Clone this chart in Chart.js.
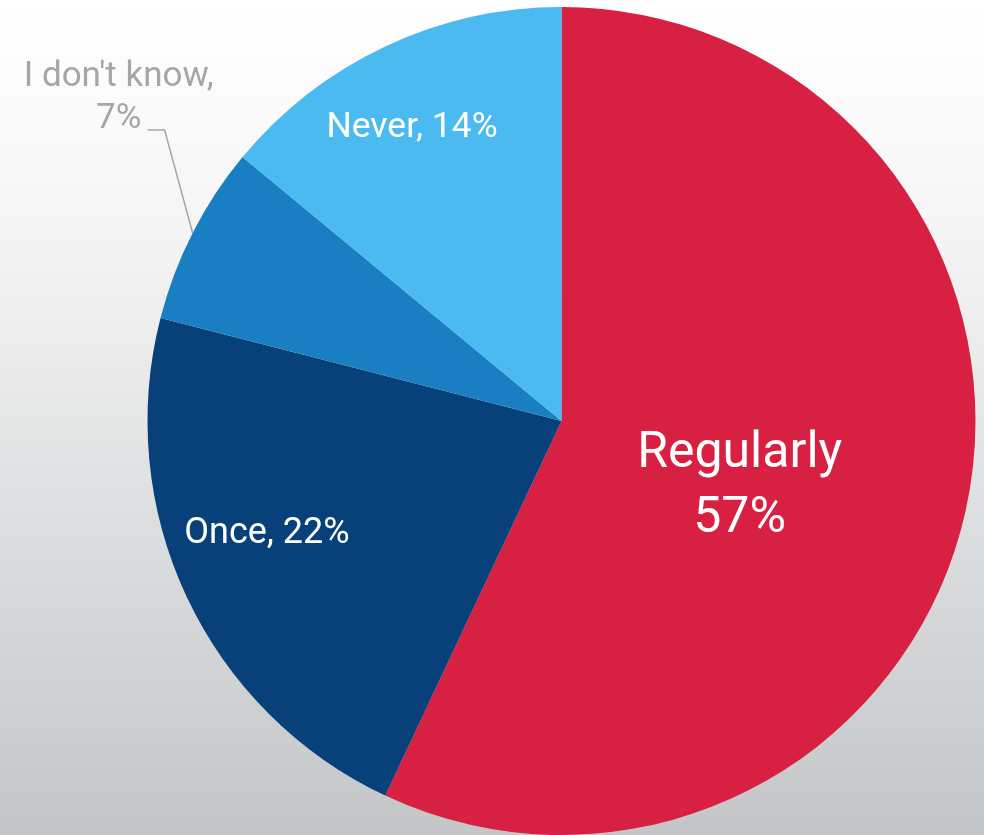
<!DOCTYPE html>
<html>
<head>
<meta charset="utf-8">
<script src="https://cdn.jsdelivr.net/npm/chart.js@4"></script>
<style>
    html, body {
        margin: 0;
        padding: 0;
    }
    body {
        width: 984px;
        height: 835px;
        background: linear-gradient(to bottom, #ffffff 0%, #f6f6f6 25%, #e2e3e4 55%, #c4c5c7 100%);
        overflow: hidden;
    }
    #wrap {
        position: relative;
        width: 984px;
        height: 835px;
    }
</style>
</head>
<body>
<div id="wrap">
    <canvas id="answers"></canvas>
</div>

<script>
// survey answers, clockwise from 12 o'clock
const categories = ['Regularly', 'Once', "I don't know", 'Never']
const shares = [57, 22, 7, 14]
const sliceColors = ['#d72042', '#08407a', '#1a7ec3', '#4abaf1']

// label text per slice (line breaks as in the original)
const labelLines = [
    ['Regularly', '57%'],
    ['Once, 22%'],
    ["I don't know,", '7%'],
    ['Never, 14%']
]

// where each label sits: fraction of radius + small angle nudge (degrees)
const labelPlacement = [
    { r: 0.459, nudge: 7.75, size: 50, lineGap: 65, color: '#ffffff' },
    { r: 0.762, nudge: 4.2, size: 36, lineGap: 0, color: '#ffffff' },
    { outside: true, size: 35, lineGap: 42, color: '#a6a6a6' },
    { r: 0.795, nudge: -1.8, size: 35.5, lineGap: 0, color: '#ffffff' }
]

const sliceLabels = {
    id: 'sliceLabels',
    afterDatasetsDraw(chart) {
        const ctx = chart.ctx
        const arcs = chart.getDatasetMeta(0).data

        arcs.forEach((arc, i) => {
            const p = labelPlacement[i]
            const lines = labelLines[i]
            const mid = (arc.startAngle + arc.endAngle) / 2

            ctx.save()
            ctx.fillStyle = p.color
            ctx.font = p.size + 'px Roboto, "Liberation Sans", sans-serif'
            ctx.textAlign = 'center'
            ctx.textBaseline = 'middle'

            if (p.outside) {
                // leader line from the rim to a small elbow, then text above-left
                const edgeX = arc.x + Math.cos(mid) * arc.outerRadius
                const edgeY = arc.y + Math.sin(mid) * arc.outerRadius
                const elbowX = edgeX - 28
                const elbowY = edgeY - 103
                ctx.strokeStyle = '#a6a6a6'
                ctx.lineWidth = 1.5
                ctx.beginPath()
                ctx.moveTo(edgeX, edgeY)
                ctx.lineTo(elbowX, elbowY)
                ctx.lineTo(elbowX - 17, elbowY)
                ctx.stroke()

                const tx = elbowX - 46
                const baseY = elbowY - 11
                ctx.fillText(lines[1], tx, baseY)
                ctx.fillText(lines[0], tx, baseY - p.lineGap)
            } else {
                const a = mid + p.nudge * Math.PI / 180
                const cx = arc.x + Math.cos(a) * arc.outerRadius * p.r
                const cy = arc.y + Math.sin(a) * arc.outerRadius * p.r
                const top = cy - (lines.length - 1) * p.lineGap / 2
                lines.forEach((line, j) => {
                    ctx.fillText(line, cx, top + j * p.lineGap)
                })
            }
            ctx.restore()
        })
    }
}

const canvas = document.getElementById('answers')
canvas.width = 984
canvas.height = 835

const chart = new Chart(canvas.getContext('2d'), {
    type: 'pie',
    data: {
        labels: categories,
        datasets: [{
            data: shares,
            backgroundColor: sliceColors,
            borderWidth: 0
        }]
    },
    options: {
        responsive: false,
        animation: false,
        layout: {
            padding: { top: 7, bottom: 0, left: 147, right: 8 }
        },
        plugins: {
            legend: { display: false },
            tooltip: { enabled: false }
        }
    },
    plugins: [sliceLabels]
})
</script>
</body>
</html>
